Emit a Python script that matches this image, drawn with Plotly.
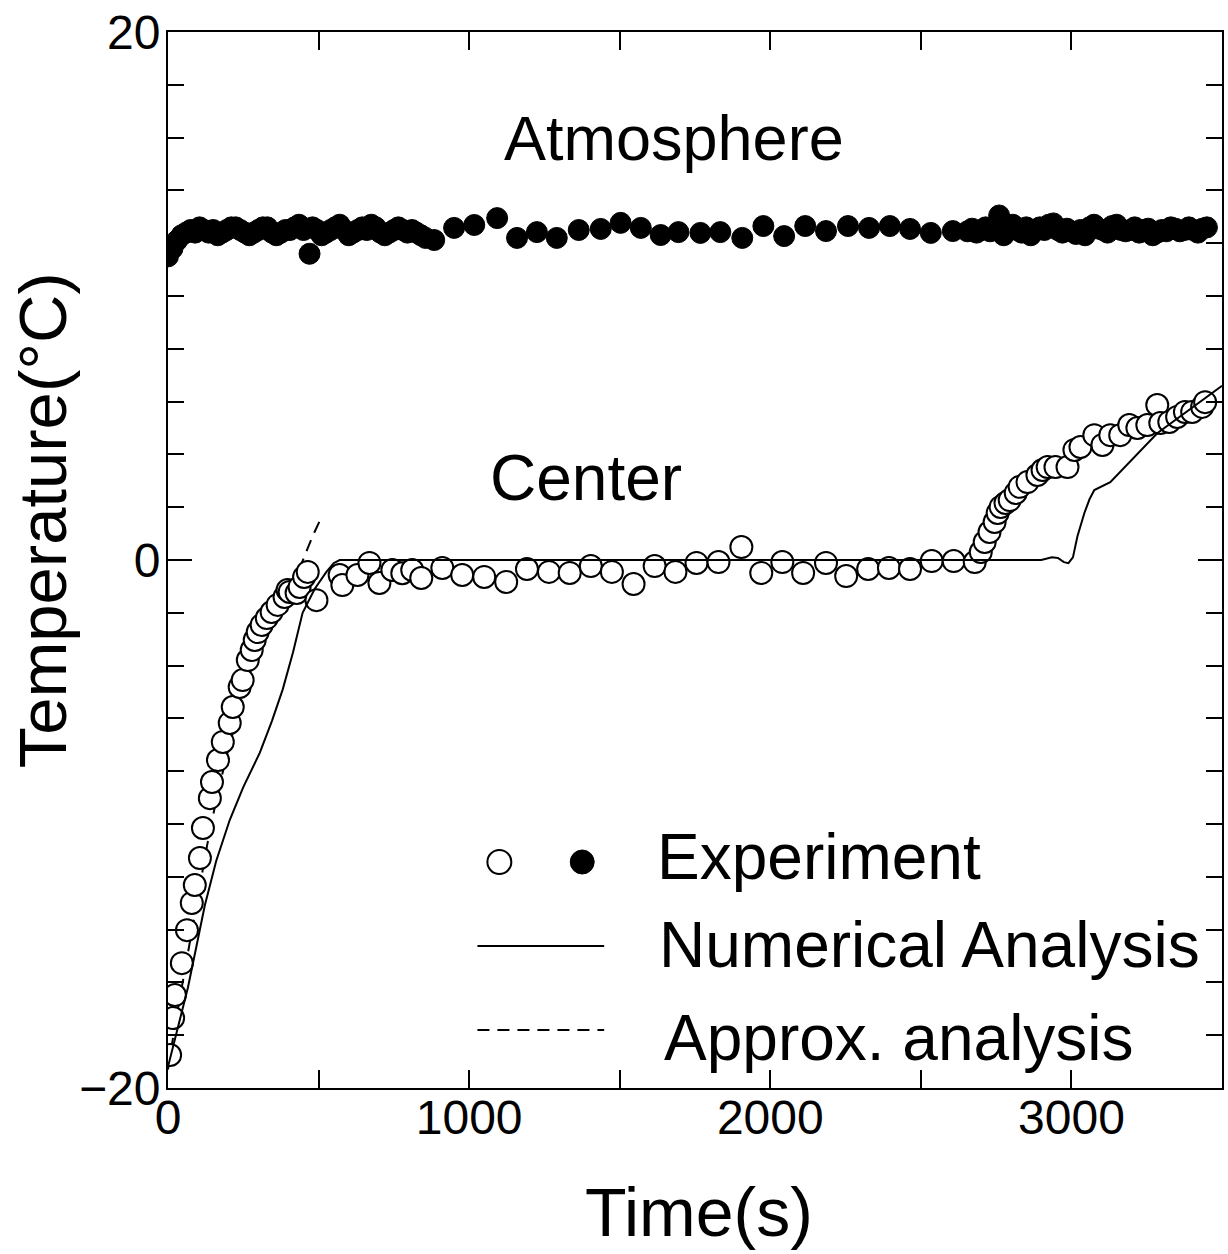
import plotly.graph_objects as go

# ---------------- data ----------------
# Center (open circles) experiment
center_t = [7, 17, 23, 46, 63, 79, 89, 106, 116, 139, 146, 166, 182, 205, 215, 238, 248, 265, 278, 288,
            298, 311, 328, 344, 364, 387, 397, 404, 427, 437, 452, 464, 493,
            570, 579, 629, 669, 702, 745, 778, 811, 841, 911, 977, 1050, 1123, 1192, 1265, 1334, 1404,
            1474, 1546, 1616, 1685, 1755, 1828, 1904, 1970, 2040, 2109, 2185, 2252, 2325, 2394, 2464,
            2536, 2609, 2679, 2699, 2712, 2728, 2745, 2755, 2765, 2781, 2795, 2815, 2828, 2854, 2887,
            2904, 2921, 2947, 2987, 3010, 3030, 3076, 3103, 3129, 3162, 3192, 3219, 3252, 3285, 3295,
            3325, 3351, 3377, 3401, 3434, 3444]
center_T = [-18.75, -17.35, -16.48, -15.27, -14.02, -12.99, -12.31, -11.29, -10.15, -9.02, -8.41, -7.58,
            -6.89, -6.17, -5.57, -4.81, -4.55, -3.79, -3.41, -3.03, -2.73, -2.46, -2.20, -1.97, -1.70,
            -1.40, -1.14, -1.21, -1.25, -1.02, -0.64, -0.45, -1.52,
            -0.57, -0.95, -0.57, -0.11, -0.87, -0.38, -0.50, -0.38, -0.68, -0.30, -0.57, -0.64, -0.83,
            -0.34, -0.45, -0.49, -0.23, -0.45, -0.91, -0.23, -0.45, -0.11, -0.08, 0.49, -0.49, -0.08,
            -0.49, -0.11, -0.61, -0.34, -0.30, -0.34, -0.04, -0.04, -0.08, 0.30, 0.68, 1.06, 1.44,
            1.78, 2.01, 2.16, 2.27, 2.54, 2.77, 2.95, 3.22, 3.41, 3.52, 3.52, 3.52, 4.17, 4.28, 4.73,
            4.36, 4.73, 4.73, 5.11, 5.00, 5.11, 5.87, 5.19, 5.23, 5.42, 5.61, 5.61, 5.80, 5.98]

# Atmosphere (filled circles) experiment
atm_t = [0, 15, 30, 45, 60, 75, 90, 105, 120, 135, 150, 165, 180, 195, 210, 225, 240, 255, 270, 285,
         300, 315, 330, 345, 360, 375, 390, 405, 420, 435, 450, 470, 480, 495, 510, 525, 540, 555,
         570, 585, 600, 615, 630, 645, 660, 675, 690, 705, 720, 735, 750, 765, 780, 795, 810, 825,
         840, 855,
         884, 950, 1017, 1093, 1159, 1225, 1291, 1364, 1437, 1503, 1570, 1636, 1695, 1768, 1834,
         1907, 1977, 2046, 2116, 2185, 2258, 2328, 2397, 2464, 2533, 2606,
         2655, 2670, 2685, 2700, 2715, 2730, 2745, 2760, 2775, 2790, 2805, 2820, 2835, 2850, 2865,
         2880, 2895, 2910, 2925, 2940, 2955, 2970, 2985, 3000, 3015, 3030, 3045, 3060, 3075, 3090,
         3105, 3120, 3135, 3150, 3165, 3180, 3195, 3210, 3225, 3240, 3255, 3270, 3285, 3300, 3315,
         3330, 3345, 3360, 3375, 3390, 3405, 3420, 3435, 3450]
atm_T = [11.5, 11.8, 12.1, 12.3, 12.4, 12.5, 12.4, 12.6, 12.5, 12.4, 12.5, 12.3, 12.4, 12.5, 12.6,
         12.6, 12.5, 12.4, 12.3, 12.4, 12.5, 12.6, 12.6, 12.4, 12.3, 12.4, 12.5, 12.5, 12.6, 12.7,
         12.5, 11.6, 12.6, 12.5, 12.3, 12.4, 12.5, 12.6, 12.7, 12.5, 12.3, 12.4, 12.5, 12.6, 12.5,
         12.7, 12.6, 12.4, 12.3, 12.4, 12.5, 12.6, 12.5, 12.4, 12.5, 12.4, 12.3, 12.2,
         12.12, 12.58, 12.69, 12.95, 12.20, 12.42, 12.20, 12.50, 12.54, 12.77, 12.58, 12.31, 12.42,
         12.39, 12.42, 12.20, 12.65, 12.27, 12.65, 12.46, 12.65, 12.58, 12.65, 12.54, 12.39, 12.46,
         12.45, 12.55, 12.4, 12.5, 12.6, 12.45, 12.55, 13.05, 12.3, 12.6, 12.7, 12.5, 12.4, 12.6,
         12.3, 12.5, 12.6, 12.5, 12.7, 12.75, 12.5, 12.4, 12.55, 12.45, 12.35, 12.5, 12.3, 12.6,
         12.7, 12.55, 12.5, 12.4, 12.65, 12.7, 12.5, 12.45, 12.5, 12.6, 12.4, 12.5, 12.55, 12.3,
         12.4, 12.5, 12.45, 12.6, 12.55, 12.45, 12.5, 12.6, 12.5, 12.4, 12.55, 12.6, 12.7, 12.6]

# Numerical analysis (solid line)
num_t = [0, 30, 66, 95, 122, 160, 205, 250, 305, 345, 381, 415, 447, 487, 526, 550, 570, 600, 1000,
         2000, 2900, 2935, 2955, 2975, 2990, 3005, 3020, 3043, 3060, 3076, 3100, 3129, 3285, 3500]
num_T = [-19.2, -17.8, -16.2, -14.6, -13.1, -11.4, -9.85, -8.6, -7.3, -6.1, -4.9, -3.5, -2.0,
         -1.1, -0.45, -0.12, 0.0, 0.0, 0.0, 0.0, 0.0, 0.1, 0.08, -0.08, -0.12, 0.1, 0.9, 1.78,
         2.3, 2.65, 2.8, 2.95, 4.8, 6.6]

# Approximate analysis (dashed line)
apx_t = [0, 25, 55, 80, 105, 130, 160, 195, 228, 260, 292, 322, 355, 390, 420, 447, 480, 510]
apx_T = [-19.3, -17.5, -15.6, -14.0, -12.4, -10.8, -9.1, -7.4, -6.0, -4.7, -3.6, -2.8, -2.0,
         -1.4, -0.8, 0.0, 0.9, 1.63]

x_ticks = [0, 1000, 2000, 3000]
y_ticks = [-20, 0, 20]

FONT = "Liberation Sans, Arial, Helvetica, sans-serif"

# ---------------- figure ----------------
fig = go.Figure()

fig.add_trace(go.Scatter(x=apx_t, y=apx_T, mode="lines",
                         line=dict(color="black", width=2, dash="12px,8px"),
                         showlegend=False, hoverinfo="skip"))
fig.add_trace(go.Scatter(x=center_t, y=center_T, mode="markers",
                         marker=dict(symbol="circle", size=22, color="white",
                                     line=dict(color="black", width=2)),
                         showlegend=False))
fig.add_trace(go.Scatter(x=num_t, y=num_T, mode="lines",
                         line=dict(color="black", width=2),
                         showlegend=False, hoverinfo="skip"))
fig.add_trace(go.Scatter(x=atm_t, y=atm_T, mode="markers",
                         marker=dict(symbol="circle", size=21, color="black",
                                     line=dict(color="black", width=1)),
                         showlegend=False))

W, H = 1228, 1254
L, R, T, B = 168, 4, 32, 166
pw, ph = W - L - R, H - T - B


def px(xp):
    return (xp - L) / pw


def py(yp):
    return (H - B - yp) / ph


fig.update_layout(
    width=W, height=H,
    margin=dict(l=L, r=R, t=T, b=B, pad=0),
    paper_bgcolor="white", plot_bgcolor="white",
    font=dict(family=FONT, color="black"),
    showlegend=False,
    xaxis=dict(range=[0, 3500], tickvals=x_ticks, ticktext=[str(v) for v in x_ticks],
               ticks="inside", ticklen=18, tickwidth=2, tickcolor="black",
               minor=dict(dtick=500, tick0=0, ticks="inside", ticklen=18, tickwidth=2,
                          tickcolor="black", showgrid=False),
               showline=True, linecolor="black", linewidth=2, mirror="allticks",
               showgrid=False, zeroline=False,
               tickfont=dict(size=48, family=FONT, color="black"),
               ticklabelstandoff=-14),
    yaxis=dict(range=[-20, 20], tickvals=y_ticks,
               ticktext=["20" if v == 20 else ("0" if v == 0 else "\u221220") for v in y_ticks],
               ticks="inside", ticklen=24, tickwidth=2, tickcolor="black",
               minor=dict(dtick=2, tick0=0, ticks="inside", ticklen=16, tickwidth=2,
                          tickcolor="black", showgrid=False),
               showline=True, linecolor="black", linewidth=2, mirror="allticks",
               showgrid=False, zeroline=False,
               tickfont=dict(size=48, family=FONT, color="black"),
               ticklabelstandoff=-4),
)

ann = []
ann.append(dict(text="Temperature(°C)", x=px(42), y=py(520), xref="paper", yref="paper",
                showarrow=False, textangle=-90, font=dict(size=67, family=FONT, color="black"),
                xanchor="center", yanchor="middle"))
ann.append(dict(text="Time(s)", x=px(700), y=py(1212), xref="paper", yref="paper",
                showarrow=False, font=dict(size=68, family=FONT, color="black"),
                xanchor="center", yanchor="middle"))
ann.append(dict(text="Atmosphere", x=1680, y=16.0, xref="x", yref="y", showarrow=False,
                font=dict(size=63, family=FONT, color="black"), xanchor="center", yanchor="middle"))
ann.append(dict(text="Center", x=1389, y=3.1, xref="x", yref="y", showarrow=False,
                font=dict(size=64, family=FONT, color="black"), xanchor="center", yanchor="middle"))
for txt, xl, yc in [("Experiment", 656, 857), ("Numerical Analysis", 658, 945),
                    ("Approx. analysis", 663, 1038)]:
    ann.append(dict(text=txt, x=px(xl), y=py(yc), xref="paper", yref="paper", showarrow=False,
                    font=dict(size=64, family=FONT, color="black"),
                    xanchor="left", yanchor="middle"))
fig.update_layout(annotations=ann)

r = 12
shapes = [
    dict(type="circle", xref="paper", yref="paper",
         x0=px(500 - r), x1=px(500 + r), y0=py(862 + r), y1=py(862 - r),
         line=dict(color="black", width=2), fillcolor="white"),
    dict(type="circle", xref="paper", yref="paper",
         x0=px(583 - r), x1=px(583 + r), y0=py(862 + r), y1=py(862 - r),
         line=dict(color="black", width=1), fillcolor="black"),
    dict(type="line", xref="paper", yref="paper", x0=px(478), x1=px(605), y0=py(946), y1=py(946),
         line=dict(color="black", width=2)),
    dict(type="line", xref="paper", yref="paper", x0=px(478), x1=px(605), y0=py(1030), y1=py(1030),
         line=dict(color="black", width=2, dash="12px,8px")),
]
fig.update_layout(shapes=shapes)

fig.write_html("out.html")
